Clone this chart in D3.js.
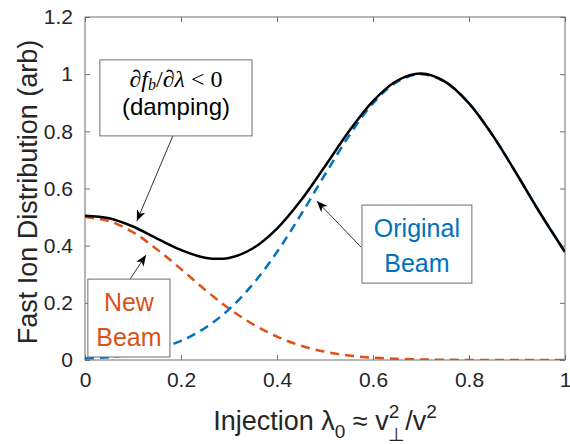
<!DOCTYPE html>
<html>
<head>
<meta charset="utf-8">
<script src="https://cdn.jsdelivr.net/npm/d3@7/dist/d3.min.js"></script>
<style>
body { margin: 0; background: #fff; }
svg text { font-family: "Liberation Sans", Arial, Helvetica, sans-serif; }
</style>
</head>
<body>
<svg id="chart" width="570" height="444"></svg>
<script>
// injection lambda (x axis)
var lambda0 = [0, 0.05, 0.1, 0.15, 0.2, 0.25, 0.3, 0.35, 0.4, 0.45, 0.5,
	0.55, 0.6, 0.65, 0.7, 0.75, 0.8, 0.85, 0.9, 0.95, 1];

// new beam (orange dashed)
var newBeam = [0.500, 0.486, 0.447, 0.387, 0.318, 0.246, 0.180, 0.125, 0.082, 0.050, 0.029,
	0.016, 0.008, 0.004, 0.002, 0.001, 0, 0, 0, 0, 0];

// original beam (blue dashed)
var originalBeam = [0.005, 0.010, 0.020, 0.038, 0.067, 0.112, 0.177, 0.266, 0.378, 0.509, 0.649,
	0.784, 0.898, 0.973, 1.000, 0.973, 0.898, 0.784, 0.649, 0.509, 0.378];

// total fast ion distribution (black)
var totalDist = [0.505, 0.496, 0.467, 0.425, 0.385, 0.358, 0.357, 0.391, 0.460, 0.559, 0.678,
	0.800, 0.906, 0.977, 1.002, 0.974, 0.898, 0.784, 0.649, 0.509, 0.378];

var xTicks = [0, 0.2, 0.4, 0.6, 0.8, 1];
var yTicks = [0, 0.2, 0.4, 0.6, 0.8, 1, 1.2];

var svg = d3.select("#chart");
var margin = { left: 85, right: 5, top: 17, bottom: 84 };
var width = +svg.attr("width") - margin.left - margin.right;
var height = +svg.attr("height") - margin.top - margin.bottom;

var x = d3.scaleLinear().domain([0, 1]).range([margin.left, margin.left + width]);
var y = d3.scaleLinear().domain([0, 1.2]).range([margin.top + height, margin.top]);

var axisColor = "#262626";
var frameColor = "#6e6e6e";

svg.append("defs").append("clipPath")
	.attr("id", "plotClip")
	.append("rect")
	.attr("x", margin.left)
	.attr("y", margin.top)
	.attr("width", width)
	.attr("height", height);

var marker = svg.select("defs").append("marker")
	.attr("id", "arrowHead")
	.attr("markerUnits", "userSpaceOnUse")
	.attr("viewBox", "-12 -6 14 12")
	.attr("refX", 0)
	.attr("refY", 0)
	.attr("markerWidth", 14)
	.attr("markerHeight", 12)
	.attr("orient", "auto");
marker.append("path")
	.attr("d", "M0,0L-11,-4.5L-8,0L-11,4.5Z")
	.attr("fill", "#000");

// axes with inward ticks on all four sides
function styleAxis(g) {
	g.select(".domain").remove();
	g.selectAll(".tick line").attr("stroke", frameColor);
	g.selectAll(".tick text")
		.attr("fill", axisColor)
		.style("font-size", "21px");
}

svg.append("g")
	.attr("transform", "translate(0," + (margin.top + height) + ")")
	.call(d3.axisBottom(x).tickValues(xTicks).tickSizeInner(-5).tickSizeOuter(0).tickPadding(12)
		.tickFormat(function(d) { return String(d); }))
	.call(styleAxis);

svg.append("g")
	.attr("transform", "translate(0," + margin.top + ")")
	.call(d3.axisTop(x).tickValues(xTicks).tickSizeInner(-5).tickSizeOuter(0).tickFormat(""))
	.call(styleAxis);

svg.append("g")
	.attr("transform", "translate(" + margin.left + ",0)")
	.call(d3.axisLeft(y).tickValues(yTicks).tickSizeInner(-5).tickSizeOuter(0).tickPadding(12)
		.tickFormat(function(d) { return String(d); }))
	.call(styleAxis);

svg.append("g")
	.attr("transform", "translate(" + (margin.left + width) + ",0)")
	.call(d3.axisRight(y).tickValues(yTicks).tickSizeInner(-5).tickSizeOuter(0).tickFormat(""))
	.call(styleAxis);

svg.append("rect")
	.attr("x", margin.left)
	.attr("y", margin.top)
	.attr("width", width)
	.attr("height", height)
	.attr("fill", "none")
	.attr("stroke", frameColor)
	.attr("stroke-width", 1);

// curves
var plot = svg.append("g").attr("clip-path", "url(#plotClip)");

function lineFor(values) {
	return d3.line()
		.x(function(d, i) { return x(lambda0[i]); })
		.y(function(d) { return y(d); })
		.curve(d3.curveCatmullRom.alpha(0.5))(values);
}

plot.append("path")
	.attr("d", lineFor(newBeam))
	.attr("fill", "none")
	.attr("stroke", "#D95319")
	.attr("stroke-width", 2.5)
	.attr("stroke-dasharray", "9,6");

plot.append("path")
	.attr("d", lineFor(originalBeam))
	.attr("fill", "none")
	.attr("stroke", "#0072BD")
	.attr("stroke-width", 2.5)
	.attr("stroke-dasharray", "9,6");

plot.append("path")
	.attr("d", lineFor(totalDist))
	.attr("fill", "none")
	.attr("stroke", "#000")
	.attr("stroke-width", 2.5);

// annotations: box corners and arrows in data units
function arrow(x0, y0, x1, y1) {
	svg.append("line")
		.attr("x1", x(x0)).attr("y1", y(y0))
		.attr("x2", x(x1)).attr("y2", y(y1))
		.attr("stroke", "#333")
		.attr("stroke-width", 1)
		.attr("marker-end", "url(#arrowHead)");
}

function box(x0, y0, x1, y1) {
	svg.append("rect")
		.attr("x", x(x0))
		.attr("y", y(y0))
		.attr("width", x(x1) - x(x0))
		.attr("height", y(y1) - y(y0))
		.attr("fill", "#fff")
		.attr("stroke", frameColor)
		.attr("stroke-width", 1);
}

arrow(0.183, 0.784, 0.108, 0.486);
box(0.031, 1.050, 0.348, 0.784);
var damp = svg.append("text")
	.attr("x", (x(0.031) + x(0.348)) / 2)
	.attr("y", y(1.050) + 27)
	.attr("text-anchor", "middle")
	.style("font-family", "'Liberation Serif', 'DejaVu Serif', serif")
	.style("font-size", "24px")
	.attr("fill", "#000");
damp.append("tspan").text("\u2202");
damp.append("tspan").style("font-style", "italic").text("f");
damp.append("tspan").style("font-style", "italic").style("font-size", "16px").attr("dy", 3).text("b");
damp.append("tspan").attr("dy", -3).text("/\u2202");
damp.append("tspan").style("font-style", "italic").text("\u03bb");
damp.append("tspan").text(" < 0");
svg.append("text")
	.attr("x", (x(0.031) + x(0.348)) / 2)
	.attr("y", y(1.050) + 55)
	.attr("text-anchor", "middle")
	.style("font-size", "24px")
	.attr("fill", "#000")
	.text("(damping)");

arrow(0.094, 0.283, 0.127, 0.367);
box(0.006, 0.283, 0.177, 0.0105);
svg.append("text")
	.attr("x", (x(0.006) + x(0.177)) / 2)
	.attr("y", y(0.283) + 32)
	.attr("text-anchor", "middle")
	.style("font-size", "25px")
	.attr("fill", "#D95319")
	.text("New");
svg.append("text")
	.attr("x", (x(0.006) + x(0.177)) / 2)
	.attr("y", y(0.283) + 67)
	.attr("text-anchor", "middle")
	.style("font-size", "25px")
	.attr("fill", "#D95319")
	.text("Beam");

arrow(0.575, 0.395, 0.483, 0.556);
box(0.577, 0.542, 0.806, 0.269);
svg.append("text")
	.attr("x", (x(0.577) + x(0.806)) / 2)
	.attr("y", y(0.542) + 32)
	.attr("text-anchor", "middle")
	.style("font-size", "25px")
	.attr("fill", "#0072BD")
	.text("Original");
svg.append("text")
	.attr("x", (x(0.577) + x(0.806)) / 2)
	.attr("y", y(0.542) + 67)
	.attr("text-anchor", "middle")
	.style("font-size", "25px")
	.attr("fill", "#0072BD")
	.text("Beam");

// axis labels
svg.append("text")
	.attr("transform", "translate(37,192) rotate(-90)")
	.attr("text-anchor", "middle")
	.style("font-size", "27px")
	.attr("fill", axisColor)
	.text("Fast Ion Distribution (arb)");

var xl = svg.append("text")
	.attr("x", margin.left + width / 2)
	.attr("y", 430)
	.attr("text-anchor", "middle")
	.style("font-size", "27px")
	.attr("fill", axisColor);
xl.append("tspan").text("Injection \u03bb");
xl.append("tspan").style("font-size", "19px").attr("dy", 8).text("0");
xl.append("tspan").attr("dy", -8).text(" \u2248 v");
xl.append("tspan").style("font-size", "19px").attr("dy", -12).text("2");
xl.append("tspan").style("font-size", "19px").attr("dx", -11).attr("dy", 23).text("\u22a5");
xl.append("tspan").attr("dy", -11).text("/v");
xl.append("tspan").style("font-size", "19px").attr("dy", -12).text("2");
</script>
</body>
</html>
